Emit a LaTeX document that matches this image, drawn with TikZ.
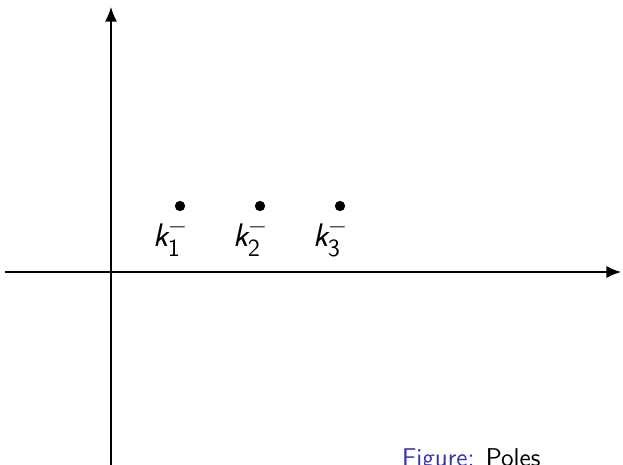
\documentclass[tikz,border=0pt]{standalone}
\usepackage{amsmath}
\usepackage{tikz}
\usepackage{xcolor}
\usetikzlibrary{positioning,arrows.meta}
\definecolor{structure}{rgb}{0.2,0.2,0.7}
\tikzset{
axis/.style={
-{Latex[length=8.5pt,width=7pt]},
line width=0.8pt
},
pole/.style={
circle,
fill=black,
inner sep=0pt,
minimum size=6pt
},
polelabel/.style={
font=\fontsize{19}{23}\sffamily,
inner sep=0pt
},
caption/.style={
font=\fontsize{15}{18}\sffamily
}
}
\newcommand{\polek}[1]{$\text{\itshape k}^{-}_{\mathsf{#1}}$}

\begin{document}
\begin{tikzpicture}[x=0.583pt,y=-0.583pt]
\useasboundingbox (0,0) rectangle (623,465);
\coordinate (xs) at (5,272);
\coordinate (xe) at (621,272);
\coordinate (ys) at (111,466);
\coordinate (ye) at (111,7);
\draw[axis](xs)--(xe);
\draw[axis](ys)--(ye);

\foreach \i/\x in {1/180,2/260,3/340}{
\node[pole](k\i) at (\x,206){};
\node[polelabel,below=4pt of k\i,xshift=-5.5pt](l\i){\polek{\i}};
}

\node[caption,anchor=base west](cap) at (396,466){\textcolor{structure}{Figure:} Poles};
\end{tikzpicture}
\end{document}
